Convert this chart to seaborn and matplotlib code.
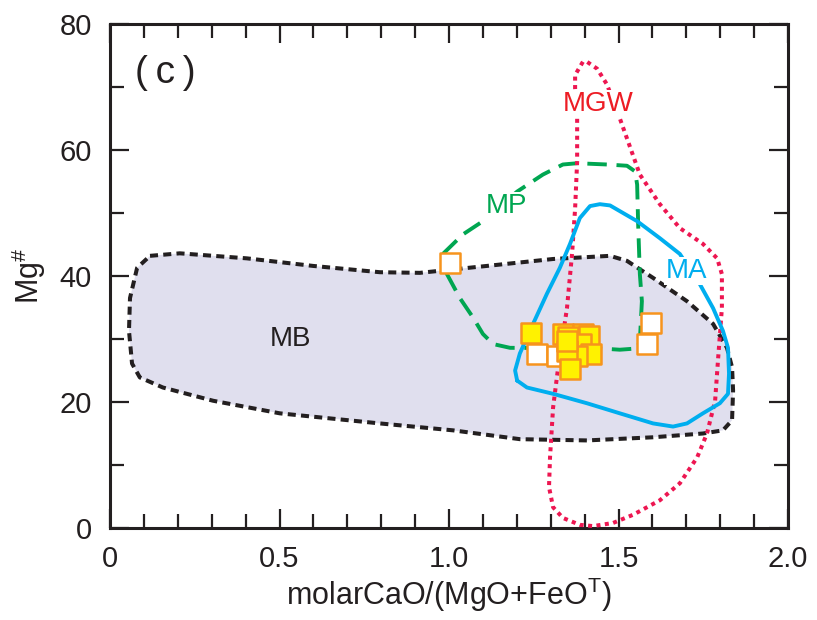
import numpy as np
import pandas as pd
import matplotlib
matplotlib.use("Agg")
import matplotlib.pyplot as plt
import seaborn as sns
from matplotlib.ticker import MultipleLocator, FixedLocator

# ---------------- data ----------------
# field outlines (x = molar CaO/(MgO+FeOT), y = Mg#)
mb_x = [0.118, 0.206, 0.404, 0.599, 0.796, 0.914, 1.112, 1.307, 1.407, 1.475, 1.525, 1.602,
        1.702, 1.779, 1.820, 1.835, 1.838, 1.835, 1.808, 1.749, 1.602, 1.407, 1.209, 1.012,
        0.796, 0.501, 0.304, 0.156, 0.088, 0.065, 0.056, 0.059, 0.080]
mb_y = [43.2, 43.6, 42.8, 41.6, 40.6, 40.5, 41.6, 42.7, 43.0, 43.2, 42.4, 39.7,
        36.0, 32.4, 28.6, 25.5, 21.8, 17.1, 15.5, 15.0, 14.4, 13.9, 14.1, 15.5,
        16.6, 18.2, 20.2, 22.3, 23.9, 26.1, 31.3, 36.5, 41.3]

mp_x = [0.982, 1.041, 1.100, 1.201, 1.277, 1.336, 1.378, 1.466, 1.525, 1.549, 1.555, 1.558,
        1.563, 1.569, 1.563, 1.555, 1.504, 1.445, 1.180, 1.130, 1.100, 1.071, 1.032, 0.994, 0.982]
mp_y = [43.5, 46.6, 48.7, 53.4, 56.1, 57.7, 57.9, 57.7, 57.5, 56.6, 54.5, 48.2,
        40.3, 36.0, 29.7, 28.5, 28.3, 28.5, 28.6, 29.2, 30.8, 33.4, 36.5, 40.3, 42.4]

mgw_x = [1.395, 1.372, 1.372, 1.378, 1.378, 1.372, 1.363, 1.348, 1.322, 1.307, 1.298, 1.295,
         1.307, 1.336, 1.386, 1.425, 1.484, 1.543, 1.622, 1.681, 1.732, 1.761, 1.785, 1.794,
         1.805, 1.805, 1.791, 1.749, 1.681, 1.622, 1.563, 1.504, 1.466, 1.437, 1.407]
mgw_y = [74.0, 71.9, 69.7, 65.0, 58.2, 50.7, 43.5, 34.9, 25.5, 19.1, 11.2, 6.5,
         3.3, 1.6, 0.5, 0.3, 0.8, 2.1, 4.4, 7.1, 11.2, 15.0, 20.2, 27.0,
         34.9, 40.3, 42.8, 45.1, 47.6, 51.4, 56.1, 65.0, 70.4, 72.9, 74.0]

ma_x = [1.201, 1.195, 1.209, 1.248, 1.289, 1.327, 1.357, 1.386, 1.416, 1.445, 1.475, 1.555,
        1.622, 1.681, 1.740, 1.779, 1.808, 1.823, 1.826, 1.823, 1.799, 1.749, 1.702, 1.661,
        1.602, 1.504, 1.407, 1.307, 1.230, 1.201]
ma_y = [23.4, 25.0, 27.7, 32.4, 37.2, 41.3, 45.1, 49.2, 51.1, 51.4, 51.2, 48.7,
        46.0, 43.5, 38.7, 34.9, 31.3, 28.6, 24.5, 21.3, 19.8, 18.2, 16.6, 16.1,
        16.6, 18.2, 19.8, 21.3, 22.3, 23.4]

# samples
open_x = [1.003, 1.260, 1.319, 1.596, 1.584]
open_y = [42.0, 27.6, 27.3, 32.6, 29.2]
fill_x = [1.242, 1.336, 1.395, 1.413, 1.351, 1.389, 1.419, 1.378, 1.348, 1.357, 1.348]
fill_y = [31.0, 30.8, 30.8, 30.5, 30.3, 29.2, 27.6, 27.3, 28.1, 25.3, 29.7]

field_labels = ["MB", "MP", "MGW", "MA"]
label_x = [0.531, 1.171, 1.44, 1.70]
label_y = [30.0, 51.1, 67.3, 40.8]

x_ticks = [0, 0.5, 1.0, 1.5, 2.0]
x_ticklabels = ["0", "0.5", "1.0", "1.5", "2.0"]
y_ticks = [0, 20, 40, 60, 80]

# ---------------- style ----------------
sns.set_style("ticks")
plt.rcParams["font.family"] = ["Liberation Sans", "DejaVu Sans"]
plt.rcParams["mathtext.fontset"] = "custom"
plt.rcParams["mathtext.rm"] = "Liberation Sans"
plt.rcParams["mathtext.it"] = "Liberation Sans"
plt.rcParams["mathtext.default"] = "regular"
plt.rcParams["text.color"] = "#231F20"
plt.rcParams["axes.labelcolor"] = "#231F20"
plt.rcParams["xtick.color"] = "#231F20"
plt.rcParams["ytick.color"] = "#231F20"

fig = plt.figure(figsize=(8.17, 6.2), dpi=100)
ax = fig.add_axes([110 / 817, 92 / 620, 678 / 817, 504 / 620])

MB_FILL = "#E0DFEE"
BLACK = "#231F20"
GREEN = "#00A651"
RED = "#ED1651"
CYAN = "#00AEEF"
ORANGE = "#F7941D"
YELLOW = "#FFF200"

ax.fill(mb_x, mb_y, color=MB_FILL, zorder=1, lw=0)

def outline(xs, ys, color, ls, lw, z):
    xs = list(xs) + [xs[0]]
    ys = list(ys) + [ys[0]]
    df = pd.DataFrame({"x": xs, "y": ys})
    sns.lineplot(data=df, x="x", y="y", sort=False, estimator=None, ax=ax,
                 color=color, linewidth=lw, linestyle=ls, zorder=z)
    line = ax.get_lines()[-1]
    line.set_solid_joinstyle("round")
    line.set_dash_joinstyle("round")
    line.set_linewidth(lw)

outline(mb_x, mb_y, BLACK, (0, (2.0, 1.3)), 2.9, 2)
outline(mp_x, mp_y, GREEN, (0, (5.0, 2.5)), 2.8, 3)
outline(mgw_x, mgw_y, RED, (0, (1.0, 1.1)), 2.9, 4)
outline(ma_x, ma_y, CYAN, "-", 2.8, 5)

label_colors = [BLACK, GREEN, "#ED1C24", CYAN]
for t, lx, ly, c in zip(field_labels, label_x, label_y, label_colors):
    bb = None if t == "MB" else dict(facecolor="white", edgecolor="none", pad=1)
    ax.text(lx, ly, t, color=c, fontsize=20, ha="center", va="center", zorder=6, bbox=bb)

open_df = pd.DataFrame({"x": open_x, "y": open_y})
fill_df = pd.DataFrame({"x": fill_x, "y": fill_y})
sns.scatterplot(data=open_df, x="x", y="y", marker="s", s=200, color="white",
                edgecolor=ORANGE, linewidth=1.8, ax=ax, zorder=7)
sns.scatterplot(data=fill_df, x="x", y="y", marker="s", s=200, color=YELLOW,
                edgecolor=ORANGE, linewidth=1.8, ax=ax, zorder=8)

ax.text(0.075, 72.3, "(\u2009c\u2009)", fontsize=28, ha="left", va="center", color=BLACK)

ax.set_xlim(0, 2.0)
ax.set_ylim(0, 80)
ax.xaxis.set_major_locator(FixedLocator(x_ticks))
ax.set_xticklabels(x_ticklabels)
ax.xaxis.set_minor_locator(MultipleLocator(0.1))
ax.yaxis.set_major_locator(FixedLocator(y_ticks))
ax.yaxis.set_minor_locator(MultipleLocator(10))
ax.tick_params(which="both", direction="in", top=True, right=True, width=1.6,
               color=BLACK, labelcolor=BLACK, labelsize=21)
ax.tick_params(axis="y", pad=13)
ax.tick_params(axis="x", pad=12)
ax.tick_params(which="major", length=14)
ax.tick_params(which="minor", length=10)
for s in ax.spines.values():
    s.set_linewidth(2.2)
    s.set_color(BLACK)
    s.set_visible(True)

ax.set_xlabel("molarCaO/(MgO+FeO$^{T}$)", fontsize=22, labelpad=2)
ax.set_ylabel("Mg$^{\\#}$", fontsize=22, labelpad=8)

fig.savefig("out.png", dpi=100)
